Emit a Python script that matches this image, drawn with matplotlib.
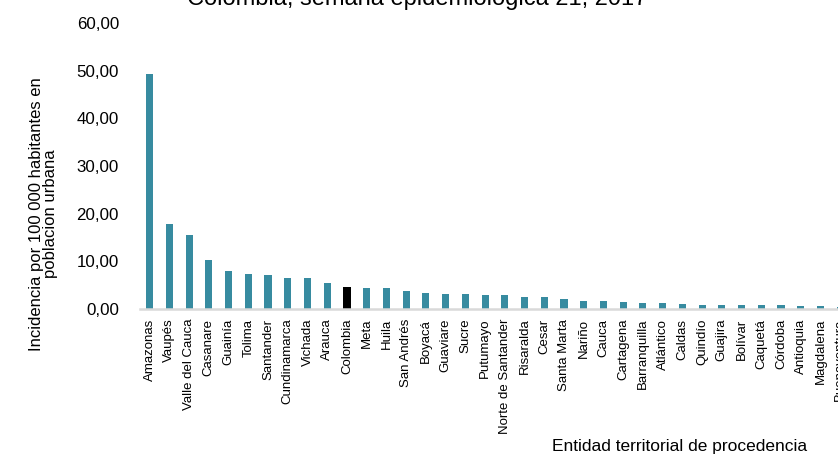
import matplotlib
matplotlib.use("Agg")
import matplotlib.pyplot as plt

plt.rcParams['font.family'] = ['Liberation Sans', 'DejaVu Sans']

categories = ["Amazonas", "Vaupés", "Valle del Cauca", "Casanare", "Guainía", "Tolima",
              "Santander", "Cundinamarca", "Vichada", "Arauca", "Colombia", "Meta", "Huila",
              "San Andrés", "Boyacá", "Guaviare", "Sucre", "Putumayo", "Norte de Santander",
              "Risaralda", "Cesar", "Santa Marta", "Nariño", "Cauca", "Cartagena",
              "Barranquilla", "Atlántico", "Caldas", "Quindío", "Guajira", "Bolívar",
              "Caquetá", "Córdoba", "Antioquia", "Magdalena", "Buenaventura"]
values = [49.4, 17.8, 15.5, 10.3, 7.9, 7.3, 7.1, 6.5, 6.5, 5.45, 4.6, 4.4, 4.4,
          3.85, 3.4, 3.1, 3.05, 3.0, 2.85, 2.6, 2.45, 2.2, 1.65, 1.65, 1.4,
          1.25, 1.25, 1.1, 0.85, 0.8, 0.8, 0.8, 0.75, 0.6, 0.6, 0.5]
highlight = "Colombia"
yticks = [0, 10, 20, 30, 40, 50, 60]
ytick_labels = ["0,00", "10,00", "20,00", "30,00", "40,00", "50,00", "60,00"]

W, H = 838, 457
fig = plt.figure(figsize=(W / 100, H / 100), dpi=100)
# axes extends past the right edge (reference image is cropped)
left_px, right_px = 139.8, 139.8 + 37 * 19.73
bottom_px, top_px = 309, 23
ax = fig.add_axes([left_px / W, 1 - bottom_px / H, (right_px - left_px) / W, (bottom_px - top_px) / H])

teal = "#378BA0"
colors = ["#000000" if c == highlight else teal for c in categories]
x = list(range(len(categories)))
ax.bar(x, values, width=0.36, color=colors, edgecolor='none', zorder=2)

ax.set_xlim(-0.5, len(categories) + 0.5)
ax.set_ylim(0, 60)
ax.set_yticks(yticks)
ax.set_yticklabels(ytick_labels, fontsize=12.2)
ax.set_xticks(x)
ax.set_xticklabels(categories, rotation=90, fontsize=9.5, va='top', ha='center')
ax.tick_params(axis='both', length=0)
ax.tick_params(axis='y', pad=15)
ax.tick_params(axis='x', pad=7)

for s in ['top', 'right', 'left']:
    ax.spines[s].set_visible(False)
ax.spines['bottom'].set_color('#D9D9D9')
ax.spines['bottom'].set_linewidth(1.8)

fig.text(43.5 / W, 1 - 214 / H, "Incidencia por 100 000 habitantes en\npoblacion urbana",
         rotation=90, ha='center', va='center', fontsize=12, linespacing=1.0,
         multialignment='center')
fig.text(680 / W, 1 - 446 / H, "Entidad territorial de procedencia",
         ha='center', va='center', fontsize=12.5)
fig.text(417 / W, 1 - 5 / H, "Colombia, semana epidemiológica 21, 2017",
         ha='center', va='baseline', fontsize=17)

fig.savefig("out.png", dpi=100)
